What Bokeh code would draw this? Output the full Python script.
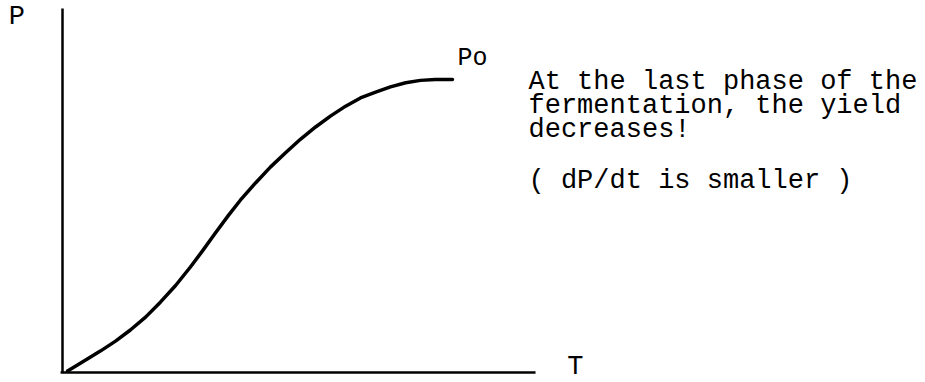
from bokeh.plotting import figure
from bokeh.models import Range1d, Label
from bokeh.embed import file_html
from bokeh.resources import INLINE

# Product concentration P versus fermentation time T (arbitrary units, P0 = 100)
time_t = [1.3, 5.1, 9.7, 13.6, 17.4, 21.3, 25.1, 29.0, 32.8, 35.9, 39.2, 42.6,
          45.6, 49.5, 53.3, 57.2, 61.0, 64.9, 68.7, 72.6, 76.4, 80.3, 84.1, 88.0,
          91.8, 95.6, 100.0]
product_p = [0.5, 3.6, 7.3, 10.7, 14.5, 18.9, 24.0, 29.7, 36.0, 41.5, 47.6, 53.7,
             58.8, 64.7, 70.1, 75.0, 79.6, 83.8, 87.5, 90.9, 93.7, 95.7, 97.5, 98.9,
             99.7, 100.0, 100.0]

note_lines = ["At the last phase of the",
              "fermentation, the yield",
              "decreases!"]
note_rate = "( dP/dt is smaller )"

FONT = "Liberation Mono"

p = figure(width=925, height=382, output_backend="svg", toolbar_location=None,
           x_range=Range1d(-15.9, 221.3), y_range=Range1d(-3.41, 126.96),
           min_border=0, background_fill_color="white", border_fill_color="white")
p.axis.visible = False
p.grid.visible = False
p.outline_line_color = None

# hand-drawn style axes through the origin
p.line([0, 0], [0, 124.2], line_color="black", line_width=2.5)
p.line([-0.5, 121.3], [0, 0], line_color="black", line_width=2.5)

# production curve
p.line(time_t, product_p, line_color="black", line_width=3.5,
       line_join="round", line_cap="round")

def add_text(x, y, txt, size, align="left", baseline="alphabetic"):
    p.add_layout(Label(x=x, y=y, text=txt, text_font=FONT, text_font_size=size,
                       text_color="black", text_align=align, text_baseline=baseline))

add_text(-13.8, 121.2, "P", "27px")
add_text(131.5, -3.4, "T", "27px", align="center", baseline="bottom")
add_text(101.3, 107.2, "Po", "25px")

for i, line in enumerate(note_lines):
    add_text(119.5, 99.0 - i * 8.2, line, "27px")
add_text(119.5, 65.5, note_rate, "27px")

open("out.html", "w").write(file_html(p, INLINE))
